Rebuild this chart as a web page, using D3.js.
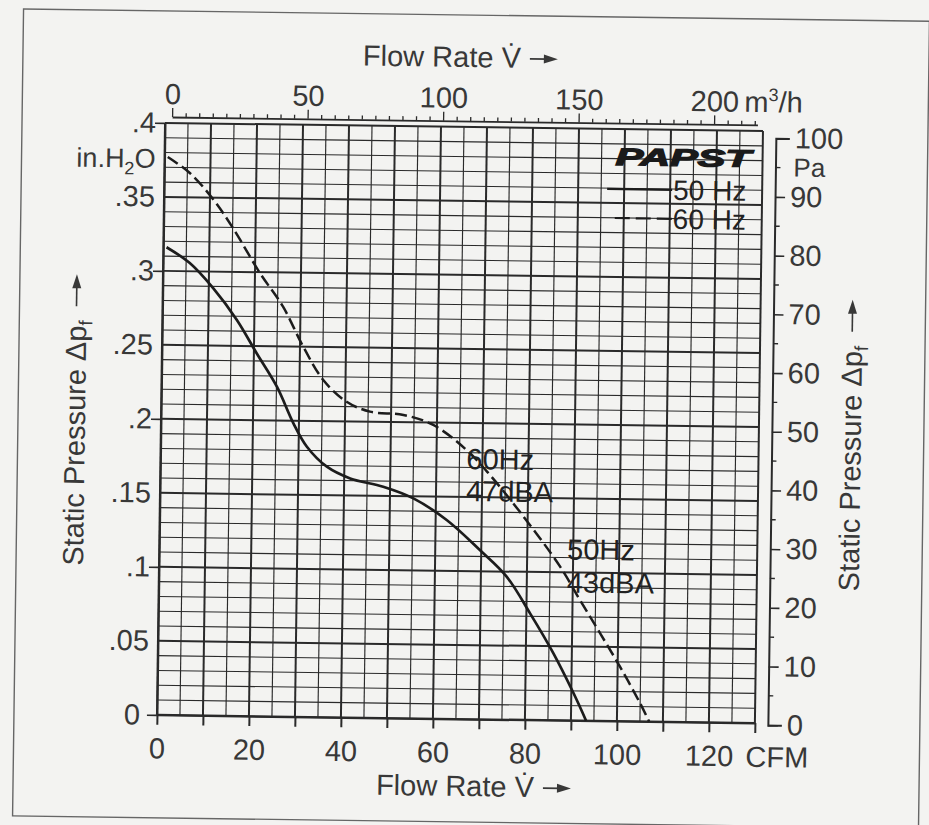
<!DOCTYPE html>
<html><head><meta charset="utf-8">
<script src="https://cdn.jsdelivr.net/npm/d3@7"></script>
<style>body{margin:0;background:#f3f3f1} svg{display:block}</style>
</head><body>
<script>
// ---- data ----
const flow50 = [0.7, 5.8, 11, 16.2, 20.6, 25.1, 28.8, 31.8, 36.2, 41.3, 48.5, 55.1, 62.4, 69.7, 75.6, 80.8, 86, 90.5, 93.3];
const press50 = [0.316, 0.3055, 0.2886, 0.2675, 0.2452, 0.2228, 0.1982, 0.1825, 0.1692, 0.1615, 0.1562, 0.1486, 0.1343, 0.1143, 0.0966, 0.072, 0.0452, 0.0184, 0];
const flow60 = [0.7, 5.6, 10.8, 15.2, 21.1, 26.2, 30.7, 35.2, 40.3, 45.4, 52.7, 59.2, 66.5, 71.7, 79, 87.2, 91.6, 96.1, 100.5, 105, 107];
const press60 = [0.377, 0.3662, 0.3484, 0.329, 0.2993, 0.2769, 0.2501, 0.2276, 0.2133, 0.2068, 0.2049, 0.1984, 0.1818, 0.165, 0.1377, 0.1038, 0.0815, 0.0591, 0.0368, 0.0122, 0];
const cfmLabels = [0, 20, 40, 60, 80, 100, 120];
const cfmTicks = [0, 10, 20, 30, 40, 50, 60, 70, 80, 90, 100, 110, 120, 130];
const inchTicks = [0, 0.05, 0.1, 0.15, 0.2, 0.25, 0.3, 0.35, 0.4];
const inchLabels = ["0", ".05", ".1", ".15", ".2", ".25", ".3", ".35", ".4"];
const paTicks = [0, 10, 20, 30, 40, 50, 60, 70, 80, 90, 100];
const m3hLabels = [0, 50, 100, 150, 200];
const seriesNames = ["50 Hz", "60 Hz"];
const noteTexts = [["60Hz", "47dBA"], ["50Hz", "43dBA"]];

const W = 929, H = 825;
const FONT = "'Liberation Sans', Arial, Helvetica, sans-serif";
const INK = "#2a2a2a", TXT = "#383838";
const FS = 29;

const svg = d3.select("body").append("svg").attr("width", W).attr("height", H)
  .style("font-family", FONT);
svg.append("rect").attr("width", W).attr("height", H).attr("fill", "#f3f3f1");
const g = svg.append("g").attr("transform", "rotate(0.78,465,420)");

// scales
const x = d3.scaleLinear().domain([0, 130]).range([161, 759]);
const y = d3.scaleLinear().domain([0, 0.4]).range([719, 127]);
const yPa = d3.scaleLinear().domain([0, 100]).range([721, 134]);
const xM = d3.scaleLinear().domain([0, 216]).range([168, 753.4]);

// outer frame
g.append("rect").attr("x", 18).attr("y", 15).attr("width", 906).attr("height", 807)
  .attr("fill", "none").attr("stroke", "#666").attr("stroke-width", 1.4);

// grid
const grid = g.append("g");
grid.selectAll("line.v").data(d3.range(0, 27)).join("line")
  .attr("x1", i => x(i * 5)).attr("x2", i => x(i * 5))
  .attr("y1", y(0)).attr("y2", y(0.4))
  .attr("stroke", INK).attr("stroke-width", i => i % 2 === 0 ? 2 : 1.15);
grid.selectAll("line.h").data(d3.range(0, 41)).join("line")
  .attr("x1", x(0)).attr("x2", x(130))
  .attr("y1", i => y(i / 100)).attr("y2", i => y(i / 100))
  .attr("stroke", INK).attr("stroke-width", i => i % 5 === 0 ? 2 : 1.1);

// bottom axis
const axB = g.append("g").attr("transform", `translate(0,${y(0)})`)
  .call(d3.axisBottom(x).tickValues(cfmTicks).tickSize(10).tickSizeOuter(0).tickPadding(13)
    .tickFormat(d => cfmLabels.includes(d) ? d : ""));
axB.select(".domain").attr("stroke", INK).attr("stroke-width", 2);
axB.selectAll(".tick line").attr("stroke", INK).attr("stroke-width", 2);
axB.selectAll(".tick text").attr("font-size", FS).attr("fill", TXT).attr("font-family", FONT);
g.append("text").attr("x", x(130) - 9).attr("y", 763).attr("font-size", FS)
  .attr("fill", TXT).text("CFM");

// left axis
const axL = g.append("g").attr("transform", `translate(${x(0)},0)`)
  .call(d3.axisLeft(y).tickValues(inchTicks).tickSize(10).tickSizeOuter(0)
    .tickFormat((d, i) => inchLabels[i]));
axL.select(".domain").attr("stroke", INK).attr("stroke-width", 2);
axL.selectAll(".tick line").attr("stroke", INK).attr("stroke-width", 1.6)
  .attr("x2", d => Math.round(d * 100) % 10 === 0 ? -10 : 0);
axL.selectAll(".tick text").attr("font-size", FS).attr("fill", TXT).attr("font-family", FONT)
  .attr("x", d => d === 0 ? -17 : -9);
const ih = g.append("text").attr("x", x(0) - 9).attr("y", 172).attr("text-anchor", "end")
  .attr("font-size", 27).attr("fill", TXT);
ih.append("tspan").text("in.H");
ih.append("tspan").attr("font-size", 18).attr("dy", 7).text("2");
ih.append("tspan").attr("dy", -7).text("O");

// right axis (Pa)
const axR = g.append("g").attr("transform", "translate(772,0)")
  .call(d3.axisRight(yPa).tickValues(paTicks).tickSize(10).tickSizeOuter(14).tickPadding(5));
axR.select(".domain").attr("stroke", INK).attr("stroke-width", 2).attr("fill", "none");
axR.selectAll(".tick line").attr("stroke", INK).attr("stroke-width", 1.6);
axR.selectAll(".tick text").attr("font-size", FS).attr("fill", TXT).attr("font-family", FONT)
  .attr("x", d => d === 100 || d === 0 ? 19 : 15);
axR.selectAll("line.minor").data(paTicks.slice(0, -1)).join("line").attr("class", "minor")
  .attr("x1", 0).attr("x2", 5).attr("y1", d => yPa(d + 5)).attr("y2", d => yPa(d + 5))
  .attr("stroke", INK).attr("stroke-width", 1.4);
g.append("text").attr("x", 790).attr("y", 172).attr("font-size", 26).attr("fill", TXT).text("Pa");

// top axis (m3/h)
const axT = g.append("g").attr("transform", "translate(0,121)")
  .call(d3.axisTop(xM).tickValues(d3.range(0, 216, 5)).tickSize(9).tickSizeOuter(0)
    .tickFormat(d => m3hLabels.includes(d) ? d : ""));
axT.select(".domain").attr("stroke", INK).attr("stroke-width", 1.8);
axT.selectAll(".tick line").attr("stroke", INK).attr("stroke-width", 1.3)
  .attr("y2", d => d % 50 === 0 ? -9 : -4);
axT.selectAll(".tick text").attr("font-size", FS).attr("fill", TXT).attr("font-family", FONT)
  .attr("y", -13).attr("dy", 0);
const mt = g.append("text").attr("x", xM(200) + 30).attr("y", 108).attr("font-size", FS).attr("fill", TXT);
mt.append("tspan").text("m");
mt.append("tspan").attr("font-size", 18).attr("dy", -11).text("3");
mt.append("tspan").attr("dy", 11).text("/h");

// horizontal titles with arrows
function hTitle(x0, yb) {
  const t = g.append("text").attr("x", x0).attr("y", yb).attr("font-size", FS).attr("fill", TXT)
    .text("Flow Rate V\u0307");
  const w = t.node().getComputedTextLength();
  const ax = x0 + w + 9;
  g.append("line").attr("x1", ax).attr("x2", ax + 18).attr("y1", yb - 9).attr("y2", yb - 9)
    .attr("stroke", TXT).attr("stroke-width", 1.6);
  g.append("path").attr("d", `M${ax + 14},${yb - 13.5} L${ax + 28},${yb - 9} L${ax + 14},${yb - 4.5} Z`).attr("fill", TXT);
}
hTitle(358, 67);
hTitle(381, 796);

// vertical titles with arrows
function vTitle(bx, by) {
  const gg = g.append("g").attr("transform", `translate(${bx},${by}) rotate(-90)`);
  const t = gg.append("text").attr("x", 0).attr("y", 0).attr("font-size", FS).attr("fill", TXT);
  t.append("tspan").text("Static Pressure \u0394p");
  t.append("tspan").attr("font-size", 19).attr("dy", 6).text("f");
  const w = t.node().getComputedTextLength();
  const ax = w + 14;
  gg.append("line").attr("x1", ax).attr("x2", ax + 22).attr("y1", -10).attr("y2", -10)
    .attr("stroke", TXT).attr("stroke-width", 1.6);
  gg.append("path").attr("d", `M${ax + 18},${-14.5} L${ax + 32},${-10} L${ax + 18},${-5.5} Z`).attr("fill", TXT);
}
vTitle(85, 571);
vTitle(861, 586);

// curves
const line = d3.line().x(d => x(d[0])).y(d => y(d[1])).curve(d3.curveCatmullRom.alpha(0.5));
const d50 = flow50.map((f, i) => [f, press50[i]]);
const d60 = flow60.map((f, i) => [f, press60[i]]);
g.append("path").attr("d", line(d50)).attr("fill", "none").attr("stroke", "#1c1c1c").attr("stroke-width", 2.7);
g.append("path").attr("d", line(d60)).attr("fill", "none").attr("stroke", "#1c1c1c").attr("stroke-width", 2.5)
  .attr("stroke-dasharray", "12,5");

// legend
g.append("text").attr("x", 612).attr("y", 163).attr("font-size", 24).attr("font-weight", 700)
  .attr("font-style", "italic").attr("fill", "#1a1a1a").attr("stroke", "#1a1a1a").attr("stroke-width", 1.3)
  .attr("textLength", 135).attr("lengthAdjust", "spacingAndGlyphs").text("PAPST");
g.append("line").attr("x1", 604).attr("x2", 669).attr("y1", 187).attr("y2", 187)
  .attr("stroke", "#1c1c1c").attr("stroke-width", 2.2);
g.append("line").attr("x1", 612).attr("x2", 669).attr("y1", 216).attr("y2", 216)
  .attr("stroke", "#1c1c1c").attr("stroke-width", 2.2).attr("stroke-dasharray", "15,6");
g.append("text").attr("x", 670).attr("y", 197).attr("font-size", 28).attr("fill", "#222").text(seriesNames[0]);
g.append("text").attr("x", 670).attr("y", 226).attr("font-size", 28).attr("fill", "#222").text(seriesNames[1]);

// curve annotations
const notePos = [[467, 469, 501], [569, 558, 591]];
noteTexts.forEach((nt, i) => {
  g.append("text").attr("x", notePos[i][0]).attr("y", notePos[i][1]).attr("font-size", 29).attr("fill", "#222").text(nt[0]);
  g.append("text").attr("x", notePos[i][0]).attr("y", notePos[i][2]).attr("font-size", 29).attr("fill", "#222").text(nt[1]);
});
</script>
</body></html>
